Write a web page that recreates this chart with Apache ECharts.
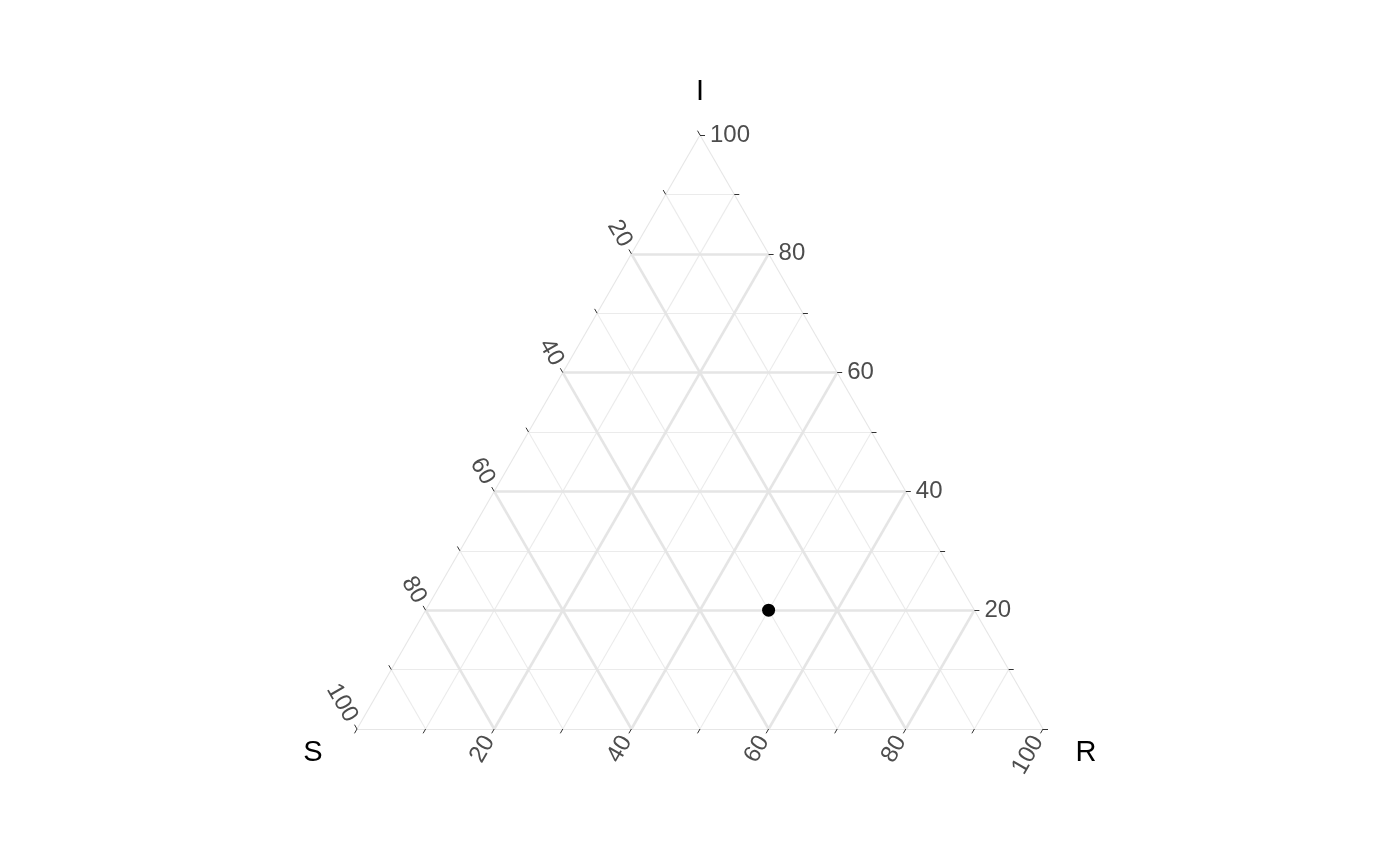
<!DOCTYPE html>
<html>
<head>
<meta charset="utf-8">
<script src="https://cdn.jsdelivr.net/npm/echarts@6/dist/echarts.min.js"></script>
<style>html,body{margin:0;padding:0;background:#fff}#c{width:1400px;height:865px}</style>
</head>
<body>
<div id="c"></div>
<script>
// ---- data ----
const axisNames = ['S', 'R', 'I'];
const gridSteps = [10, 20, 30, 40, 50, 60, 70, 80, 90];
const tickValues = [0, 10, 20, 30, 40, 50, 60, 70, 80, 90, 100];
const tickLabels = [20, 40, 60, 80, 100];
const pointS = [30];
const pointR = [50];
const pointI = [20];

// ---- ternary -> cartesian (data units) ----
const H = Math.sqrt(3) / 2;
function toXY(s, r, i) {
  const t = s + r + i;
  return [(r + i / 2) / t, (i / t) * H];
}
const PX = 686; // px per data unit (for tick length / label gap only)
function dirVec(deg) { const a = deg * Math.PI / 180; return [Math.cos(a), Math.sin(a)]; }
function offset(p, d, px) { return [p[0] + d[0] * px / PX, p[1] + d[1] * px / PX]; }

const minor = [], major = [];
function addLine(a, b, k) { (k % 20 === 0 ? major : minor).push({ coords: [a, b] }); }
gridSteps.forEach(k => {
  addLine(toXY(100 - k, 0, k), toXY(0, 100 - k, k), k);      // I = k
  addLine(toXY(100 - k, k, 0), toXY(0, k, 100 - k), k);      // R = k
  addLine(toXY(k, 100 - k, 0), toXY(k, 0, 100 - k), k);      // S = k
});
const edges = [
  { coords: [toXY(100, 0, 0), toXY(0, 100, 0)] },
  { coords: [toXY(100, 0, 0), toXY(0, 0, 100)] },
  { coords: [toXY(0, 100, 0), toXY(0, 0, 100)] }
];

// axis definitions: where ticks sit and outward direction
const axes = {
  I: { pos: k => toXY(0, 100 - k, k), dir: dirVec(0), rotate: 0, align: 'left' },
  S: { pos: k => toXY(k, 0, 100 - k), dir: dirVec(120), rotate: -60, align: 'right' },
  R: { pos: k => toXY(100 - k, k, 0), dir: dirVec(240), rotate: 60, align: 'right' }
};
const ticks = [];
const labels = [];
Object.keys(axes).forEach(name => {
  const ax = axes[name];
  tickValues.forEach(k => {
    const p = ax.pos(k);
    ticks.push({ coords: [p, offset(p, ax.dir, 5)] });
  });
  tickLabels.forEach(k => {
    const p = offset(ax.pos(k), ax.dir, 10);
    labels.push({
      value: p,
      label: { show: true, position: 'inside', formatter: String(k), rotate: ax.rotate, align: ax.align, verticalAlign: 'middle' }
    });
  });
});

const titles = [
  { value: toXY(100, 0, 0), label: { show: true, position: 'inside', formatter: axisNames[0], offset: [-44, 24] } },
  { value: toXY(0, 100, 0), label: { show: true, position: 'inside', formatter: axisNames[1], offset: [43, 24] } },
  { value: toXY(0, 0, 100), label: { show: true, position: 'inside', formatter: axisNames[2], offset: [0, -43] } }
];

const pts = pointS.map((s, j) => toXY(s, pointR[j], pointI[j]));

const chart = echarts.init(document.getElementById('c'), null, { renderer: 'canvas' });
chart.setOption({
  animation: false,
  backgroundColor: '#ffffff',
  grid: { left: 357, top: 135, width: 686, height: 594 },
  xAxis: { type: 'value', min: 0, max: 1, show: false },
  yAxis: { type: 'value', min: 0, max: H, show: false },
  series: [
    { type: 'lines', coordinateSystem: 'cartesian2d', data: minor, silent: true, clip: false,
      lineStyle: { color: '#ebebeb', width: 1.1, opacity: 1 } },
    { type: 'lines', coordinateSystem: 'cartesian2d', data: edges, silent: true, clip: false,
      lineStyle: { color: '#e6e6e6', width: 1.1, opacity: 1 } },
    { type: 'lines', coordinateSystem: 'cartesian2d', data: major, silent: true, clip: false,
      lineStyle: { color: '#e5e5e5', width: 2.6, opacity: 1 } },
    { type: 'lines', coordinateSystem: 'cartesian2d', data: ticks, silent: true, clip: false,
      lineStyle: { color: '#333333', width: 1, opacity: 1 } },
    { type: 'scatter', data: labels, symbolSize: 1, clip: false, silent: true,
      itemStyle: { color: 'rgba(0,0,0,0)', opacity: 1 },
      label: { color: '#4d4d4d', fontSize: 24, fontFamily: 'Liberation Sans, Arial, sans-serif' },
      labelLayout: { hideOverlap: false } },
    { type: 'scatter', data: titles, symbolSize: 1, clip: false, silent: true,
      itemStyle: { color: 'rgba(0,0,0,0)', opacity: 1 },
      label: { color: '#000000', fontSize: 29, fontFamily: 'Liberation Sans, Arial, sans-serif', align: 'center', verticalAlign: 'middle' } },
    { type: 'scatter', data: pts, symbol: 'circle', symbolSize: 13, clip: false,
      itemStyle: { color: '#000000', opacity: 1 } }
  ]
});
</script>
</body>
</html>
